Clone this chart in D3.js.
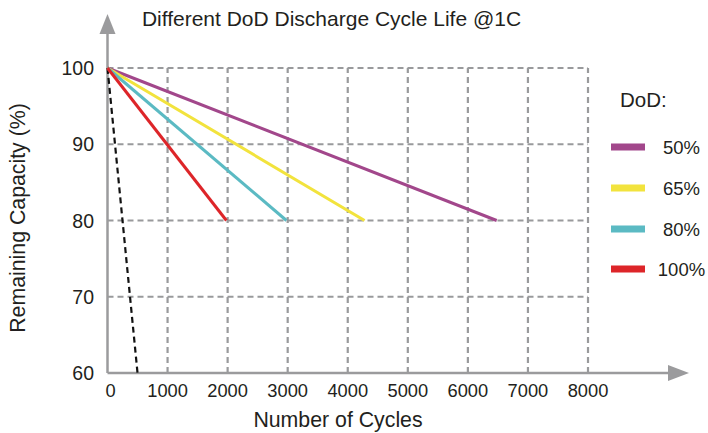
<!DOCTYPE html>
<html><head><meta charset="utf-8">
<script src="https://cdn.jsdelivr.net/npm/d3@7"></script>
<style>body{margin:0;background:#fff}svg{display:block}text{font-family:"Liberation Sans",Arial,sans-serif;fill:#231f20}</style>
</head><body><svg width="708" height="433"></svg>
<script>
const xTicks = [0,1000,2000,3000,4000,5000,6000,7000,8000];
const yTicks = [60,70,80,90,100];
const seriesNames = ["50%","65%","80%","100%"];
const seriesColors = ["#a2478b","#f2e33d","#5bbac3","#dd2529"];
const seriesCycles = [[0,6480],[0,4280],[0,2980],[0,1980]];
const seriesCapacity = [[100,80],[100,80],[100,80],[100,80]];
const refCycles = [0,500];
const refCapacity = [100,60];

const svg = d3.select("svg");
const x = d3.scaleLinear().domain([0,8000]).range([107.5,588]);
const y = d3.scaleLinear().domain([60,100]).range([373,68]);
const gridC = "#999a9c";

// grid
const g = svg.append("g");
yTicks.filter(v=>v>60).forEach(v=>{
  g.append("line").attr("x1",x(0)).attr("x2",x(8000)).attr("y1",y(v)).attr("y2",y(v))
   .attr("stroke",gridC).attr("stroke-width",2.2).attr("stroke-dasharray","6,4");
});
xTicks.filter(v=>v>0).forEach(v=>{
  g.append("line").attr("x1",x(v)).attr("x2",x(v)).attr("y1",y(60)).attr("y2",y(100))
   .attr("stroke",gridC).attr("stroke-width",2.2).attr("stroke-dasharray","6,4");
});

// axes with arrows
const axC = "#9b9b9d";
svg.append("line").attr("x1",x(0)).attr("x2",x(0)).attr("y1",y(60)).attr("y2",30).attr("stroke",axC).attr("stroke-width",2.5);
svg.append("path").attr("d",`M${x(0)-8},34 L${x(0)},14 L${x(0)+8},34 Z`).attr("fill",axC);
svg.append("line").attr("x1",x(0)).attr("x2",672).attr("y1",y(60)).attr("y2",y(60)).attr("stroke",axC).attr("stroke-width",2.5);
svg.append("path").attr("d",`M668,${y(60)-8} L689,${y(60)} L668,${y(60)+8} Z`).attr("fill",axC);

// tick labels
svg.append("g").selectAll("text").data(yTicks).join("text")
  .attr("x",94).attr("y",d=>y(d)+7).attr("text-anchor","end").attr("font-size",19.5).text(d=>d);
svg.append("g").selectAll("text").data(xTicks).join("text")
  .attr("x",d=>d===0?x(d)+3:x(d)).attr("y",397).attr("text-anchor","middle").attr("font-size",18.3).text(d=>d);

// titles
svg.append("text").attr("x",331.5).attr("y",26).attr("text-anchor","middle").attr("font-size",21).text("Different DoD Discharge Cycle Life @1C");
svg.append("text").attr("x",338).attr("y",427).attr("text-anchor","middle").attr("font-size",21.3).text("Number of Cycles");
svg.append("text").attr("transform","translate(25,218) rotate(-90)").attr("text-anchor","middle").attr("font-size",21.3).text("Remaining Capacity (%)");

// series lines
const line = d3.line().x(d=>x(d[0])).y(d=>y(d[1]));
svg.append("path").datum(refCycles.map((c,i)=>[c,refCapacity[i]])).attr("d",line)
  .attr("fill","none").attr("stroke","#111").attr("stroke-width",2.2).attr("stroke-dasharray","6,4");
seriesNames.forEach((n,i)=>{
  svg.append("path").datum(seriesCycles[i].map((c,j)=>[c,seriesCapacity[i][j]])).attr("d",line)
    .attr("fill","none").attr("stroke",seriesColors[i]).attr("stroke-width",3);
});

// legend
svg.append("text").attr("x",620).attr("y",107).attr("font-size",20.5).text("DoD:");
const legY = [147,188,229,269];
seriesNames.forEach((n,i)=>{
  svg.append("rect").attr("x",611).attr("y",legY[i]-3.5).attr("width",34).attr("height",7).attr("fill",seriesColors[i]);
  svg.append("text").attr("x",681.5).attr("y",legY[i]+6.5).attr("text-anchor","middle").attr("font-size",18.5).text(n);
});
</script></body></html>
